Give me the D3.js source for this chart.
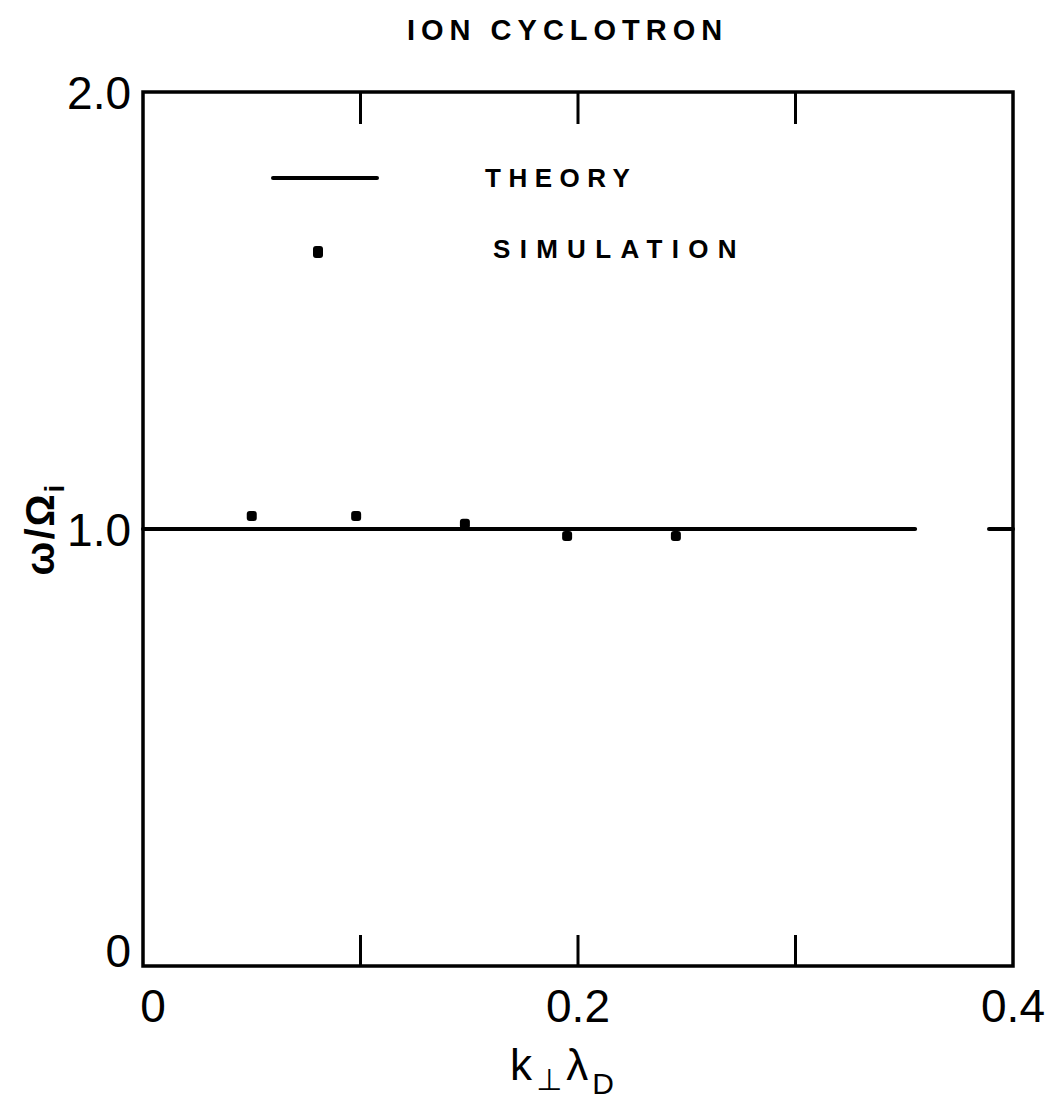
<!DOCTYPE html>
<html>
<head>
<meta charset="utf-8">
<script src="https://cdn.jsdelivr.net/npm/d3@7"></script>
<style>
body { margin: 0; background: #fff; }
svg { display: block; }
text { font-family: "Liberation Sans", "DejaVu Sans", sans-serif; fill: #000; }
</style>
</head>
<body>
<script>
// data
var xTicks = [0, 0.1, 0.2, 0.3, 0.4];
var xLabels = ["0", "", "0.2", "", "0.4"];
var yTicks = [0, 1.0, 2.0];
var yLabels = ["0", "1.0", "2.0"];
var theoryK = [0, 0.355];
var theoryW = [1.0, 1.0];
var simK = [0.05, 0.098, 0.148, 0.195, 0.245];
var simW = [1.03, 1.03, 1.012, 0.984, 0.984];

var width = 1047, height = 1100;
var margin = {left: 143, right: 34, top: 92, bottom: 134};

var svg = d3.select("body").append("svg").attr("width", width).attr("height", height);

var x = d3.scaleLinear().domain([0, 0.4]).range([margin.left, width - margin.right]);
var y = d3.scaleLinear().domain([0, 2]).range([height - margin.bottom, margin.top]);

// frame
svg.append("rect")
	.attr("x", x(0)).attr("y", y(2))
	.attr("width", x(0.4) - x(0)).attr("height", y(0) - y(2))
	.attr("fill", "none").attr("stroke", "#000").attr("stroke-width", 3.5);

// inner ticks, bottom and top
var inner = xTicks.filter(function(d) { return d > 0 && d < 0.4; });
svg.selectAll(".tb").data(inner).enter().append("line")
	.attr("x1", function(d) { return x(d); }).attr("x2", function(d) { return x(d); })
	.attr("y1", y(0)).attr("y2", y(0) - 31)
	.attr("stroke", "#000").attr("stroke-width", 3);
svg.selectAll(".tt").data(inner).enter().append("line")
	.attr("x1", function(d) { return x(d); }).attr("x2", function(d) { return x(d); })
	.attr("y1", y(2)).attr("y2", y(2) + 32)
	.attr("stroke", "#000").attr("stroke-width", 3);
// right tick at 1.0
svg.append("line")
	.attr("x1", x(0.4)).attr("x2", x(0.4) - 24)
	.attr("y1", y(1)).attr("y2", y(1))
	.attr("stroke", "#000").attr("stroke-width", 4).attr("stroke-linecap", "round");

// tick labels
svg.selectAll(".xl").data(xTicks).enter().append("text")
	.attr("x", function(d, i) { return x(d) + (i == 0 ? 10 : 0); })
	.attr("y", y(0) + 56)
	.attr("text-anchor", "middle")
	.attr("font-size", 46)
	.text(function(d, i) { return xLabels[i]; });
svg.selectAll(".yl").data(yTicks).enter().append("text")
	.attr("x", margin.left - 12)
	.attr("y", function(d) { return y(d) + (d == 0 ? 1 : 17); })
	.attr("text-anchor", "end")
	.attr("font-size", 46)
	.text(function(d, i) { return yLabels[i]; });

// theory line
var line = d3.line().x(function(d) { return x(d[0]); }).y(function(d) { return y(d[1]); });
svg.append("path")
	.datum(d3.zip(theoryK, theoryW))
	.attr("d", line)
	.attr("fill", "none").attr("stroke", "#000").attr("stroke-width", 4)
	.attr("stroke-linecap", "round");

// simulation points
svg.selectAll(".pt").data(d3.zip(simK, simW)).enter().append("rect")
	.attr("x", function(d) { return x(d[0]) - 5; })
	.attr("y", function(d) { return y(d[1]) - 5; })
	.attr("width", 10).attr("height", 10)
	.attr("rx", 3)
	.attr("fill", "#000");

// legend
svg.append("line")
	.attr("x1", 273).attr("x2", 377).attr("y1", 178).attr("y2", 178)
	.attr("stroke", "#000").attr("stroke-width", 4).attr("stroke-linecap", "round");
svg.append("text").attr("x", 485).attr("y", 187)
	.attr("font-size", 26).attr("font-weight", "bold").attr("letter-spacing", 7.5)
	.text("THEORY");
svg.append("rect").attr("x", 313).attr("y", 246).attr("width", 10).attr("height", 12)
	.attr("rx", 3).attr("fill", "#000");
svg.append("text").attr("x", 493).attr("y", 258)
	.attr("font-size", 26).attr("font-weight", "bold").attr("letter-spacing", 9.3)
	.text("SIMULATION");

// title
svg.append("text").attr("x", 407).attr("y", 40)
	.attr("font-size", 29).attr("font-weight", "bold").attr("letter-spacing", 6)
	.text("ION CYCLOTRON");

// axis titles
var xt = svg.append("text").attr("x", 564).attr("y", 1080)
	.attr("text-anchor", "middle").attr("font-size", 44).attr("letter-spacing", 4);
xt.append("tspan").text("k");
xt.append("tspan").attr("font-size", 30).attr("dy", 10).text("⊥");
xt.append("tspan").attr("dy", -10).text("λ");
xt.append("tspan").attr("font-size", 30).attr("dy", 14).text("D");

var yt = svg.append("text")
	.attr("transform", "translate(54," + y(1) + ") rotate(-90)")
	.attr("text-anchor", "middle").attr("font-size", 40).attr("font-weight", "bold")
	.attr("letter-spacing", 2);
yt.append("tspan").text("ω/Ω");
yt.append("tspan").attr("font-size", 28).attr("dy", 10).text("i");
</script>
</body>
</html>
